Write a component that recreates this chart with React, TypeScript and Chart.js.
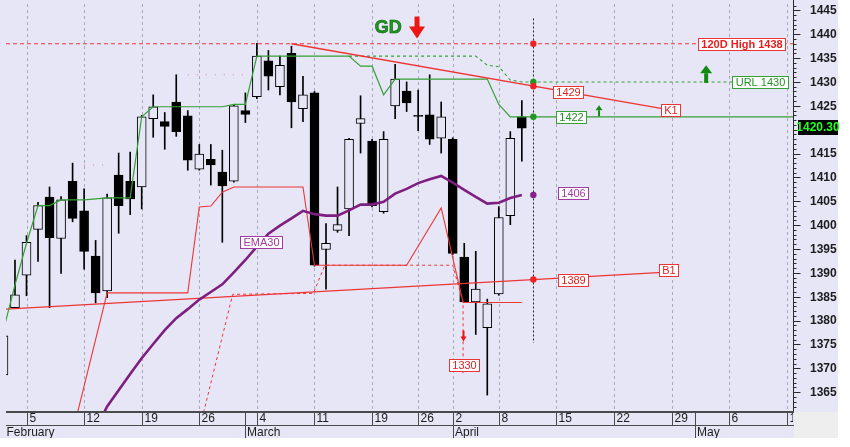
import React, { useEffect, useRef } from 'react';
import { Chart, registerables } from 'chart.js';

Chart.register(...registerables);

// ---------- data ----------
// trading-day index of the first candle (index 0 = Monday 5 February)
const FIRST_BAR_INDEX = -2;
const opens = [1368.6, 1382.7, 1389.5, 1399.1, 1405.9, 1397.2, 1409.2, 1403.0, 1393.5, 1386.2, 1410.5, 1409.2, 1408.0, 1422.3, 1421.7, 1425.8, 1422.9, 1411.7, 1413.8, 1411.1, 1409.2, 1424.0, 1426.9, 1434.4, 1429.0, 1436.0, 1424.4, 1427.7, 1394.9, 1398.9, 1403.4, 1421.3, 1417.6, 1402.8, 1425.0, 1428.1, 1423.0, 1423.1, 1418.2, 1418.0, 1393.3, 1383.9, 1378.5, 1385.6, 1402.0, 1422.7];
const highs = [1378.0, 1392.7, 1397.8, 1404.8, 1408.0, 1406.0, 1413.0, 1407.6, 1396.8, 1406.5, 1415.1, 1415.3, 1423.0, 1427.3, 1423.6, 1431.5, 1424.0, 1416.9, 1416.9, 1415.7, 1425.3, 1427.7, 1438.1, 1436.6, 1435.4, 1437.5, 1431.2, 1428.0, 1400.3, 1408.0, 1418.2, 1427.1, 1418.0, 1419.6, 1433.7, 1430.0, 1428.3, 1431.5, 1425.8, 1418.3, 1396.2, 1394.5, 1384.5, 1403.9, 1419.6, 1426.1];
const lows = [1366.0, 1382.7, 1385.2, 1392.4, 1382.7, 1389.9, 1400.7, 1390.8, 1383.7, 1384.8, 1398.3, 1402.2, 1403.4, 1418.4, 1415.9, 1418.6, 1411.5, 1411.5, 1408.4, 1396.4, 1409.0, 1421.5, 1426.5, 1428.3, 1427.3, 1420.4, 1421.7, 1391.4, 1386.6, 1398.5, 1397.8, 1415.1, 1403.8, 1402.5, 1422.3, 1423.8, 1419.8, 1416.9, 1415.1, 1393.8, 1383.9, 1377.1, 1364.4, 1385.3, 1400.1, 1413.4];
const closes = [1376.8, 1385.4, 1396.4, 1404.1, 1397.4, 1405.3, 1401.4, 1394.5, 1385.8, 1405.7, 1404.1, 1405.5, 1422.7, 1424.8, 1420.7, 1419.6, 1413.6, 1414.9, 1412.6, 1408.2, 1425.0, 1423.2, 1435.4, 1431.2, 1433.5, 1425.8, 1427.3, 1391.6, 1396.2, 1400.1, 1418.0, 1422.3, 1404.1, 1418.0, 1430.6, 1425.6, 1422.8, 1418.0, 1422.7, 1394.1, 1383.9, 1386.6, 1383.5, 1401.6, 1418.2, 1420.3];
const lastPrice = 1420.3;

// EMA30 (starts at trading-day index 6)
const EMA_FIRST_INDEX = 6;
const ema30 = [1357.2, 1362.0, 1365.4, 1368.8, 1372.1, 1375.1, 1378.0, 1380.5, 1382.4, 1384.4, 1386.0, 1387.6, 1390.1, 1392.7, 1395.5, 1398.2, 1399.9, 1401.4, 1403.0, 1402.3, 1402.0, 1402.0, 1403.1, 1404.3, 1404.3, 1404.9, 1406.6, 1407.6, 1408.8, 1409.6, 1410.3, 1408.9, 1407.4, 1405.9, 1404.5, 1404.7, 1405.7, 1406.3];

// green trailing line (starts at index -2, ends at 44)
const greenTrail = [1378.0, 1387.5, 1396.2, 1404.1, 1404.1, 1405.3, 1405.3, 1405.3, 1405.5, 1405.7, 1405.7, 1405.7, 1422.7, 1424.8, 1424.8, 1424.8, 1424.8, 1424.8, 1424.8, 1424.8, 1425.3, 1425.3, 1435.4, 1435.4, 1435.4, 1435.4, 1435.4, 1435.4, 1435.4, 1435.4, 1435.4, 1433.3, 1433.3, 1427.3, 1430.6, 1430.6, 1430.6, 1430.6, 1430.6, 1430.6, 1430.6, 1430.6, 1430.6, 1425.3, 1422.7, 1422.7, 1422.7];
const supportLevel = 1422.7;

// green dashed line -> URL 1430
const greenDashIdx = [28, 39, 40, 41, 42, 43, 44, 61.3];
const greenDashVal = [1435.4, 1435.4, 1433.5, 1433.2, 1430.4, 1430, 1430, 1430];

// red stepped line
const redStepIdx = [4, 7, 14, 15, 16, 17, 18, 24, 25, 33, 36, 37.9, 43];
const redStepVal = [1356.5, 1385.8, 1385.8, 1403.8, 1404.0, 1406.9, 1408.0, 1408.0, 1391.6, 1391.6, 1403.6, 1383.8, 1383.8];

// red dashed line (down to the 1330 projection)
const redDashIdx = [15, 17.9, 24.9, 25.9, 37.0, 37.9, 37.9];
const redDashVal = [1357.1, 1385.5, 1385.7, 1391.6, 1391.6, 1383.8, 1369.0];

// trend lines
const k1Idx = [23, 55.2];
const k1Val = [1438, 1424.4];
const b1Idx = [-1.78, 55.2];
const b1Val = [1382.4, 1390.1];
const high120 = 1438;
const urlLevel = 1430;

// faint dotted resistance marks
const res1Idx = [5, 7.2];
const res1Val = [1412.6, 1412.6];
const res2Idx = [14, 19];
const res2Val = [1431.5, 1431.5];

// markers on the projection day
const markerIdx = 44;
const markerVal = [1438, 1430, 1429.1, 1422.7, 1406.3, 1388.6];
const markerColor = ['#EE2222', '#229922', '#EE2222', '#229922', '#882288', '#EE2222'];

// axis labels
const weekTickIdx = [0, 5, 10, 15, 20, 25, 30, 34, 37, 41, 46, 51, 56, 61, 66];
const weekTickLabels = ['5', '12', '19', '26', '4', '11', '19', '26', '2', '8', '15', '22', '29', '6', '13'];
const monthStartIdx = [-2, 19, 37, 58];
const monthLabels = ['February', 'March', 'April', 'May'];
const priceTicks = [1365, 1370, 1375, 1380, 1385, 1390, 1395, 1400, 1405, 1410, 1415, 1420, 1425, 1430, 1435, 1440, 1445];

// ---------- constants for the view ----------
const X_MIN = -1.78;
const X_MAX = 66.54;
const Y_MIN = 1361.06;
const Y_MAX = 1446.33;
const BG = '#E6E6F7';
const RED = '#EE3535';
const RED_TXT = '#E61E1E';
const GREEN = '#35A035';
const GREEN_TXT = '#259025';
const PURPLE = '#7E1F80';
const PURPLE_TXT = '#A03CA0';
const FONT = '"Liberation Sans", Arial, sans-serif';

const pairs = (xs: number[], ys: number[]) => xs.map((x, i) => ({ x, y: ys[i] }));

function drawBox(ctx: CanvasRenderingContext2D, text: string, cx: number, cy: number, color: string, txtColor: string, bold = false) {
  ctx.font = `${bold ? 'bold ' : ''}11px ${FONT}`;
  const w = Math.round(ctx.measureText(text).width + 6);
  const h = 12;
  const x0 = Math.round(cx - w / 2) + 0.5;
  const y0 = Math.round(cy - h / 2) + 0.5;
  ctx.fillStyle = '#FFFFFF';
  ctx.fillRect(x0, y0, w, h);
  ctx.strokeStyle = color;
  ctx.lineWidth = 1;
  ctx.setLineDash([]);
  ctx.strokeRect(x0, y0, w, h);
  ctx.fillStyle = txtColor;
  ctx.textAlign = 'center';
  ctx.textBaseline = 'middle';
  ctx.fillText(text, x0 + w / 2, y0 + h / 2 + 0.5);
}

function drawArrow(ctx: CanvasRenderingContext2D, x: number, yTail: number, yHead: number, headW: number, headH: number, shaftW: number, color: string) {
  const dir = yHead < yTail ? -1 : 1;
  ctx.fillStyle = color;
  const baseY = yHead - dir * headH;
  ctx.fillRect(x - shaftW / 2, Math.min(yTail, baseY), shaftW, Math.abs(baseY - yTail) + 1);
  ctx.beginPath();
  ctx.moveTo(x - headW / 2, baseY);
  ctx.lineTo(x + headW / 2, baseY);
  ctx.lineTo(x, yHead);
  ctx.closePath();
  ctx.fill();
}

const overlayPlugin = {
  id: 'overlay',
  beforeDraw(chart: any) {
    const { ctx, chartArea: a } = chart;
    ctx.save();
    ctx.fillStyle = '#FFFFFF';
    ctx.fillRect(0, 0, chart.width, chart.height);
    ctx.fillStyle = BG;
    ctx.fillRect(0, 0, 838, 438);
    ctx.fillStyle = '#EEEEEE';
    ctx.fillRect(a.right + 1, a.bottom + 1, 838 - a.right - 1, 438 - a.bottom - 1);
    ctx.restore();
  },
  beforeDatasetsDraw(chart: any) {
    const { ctx, chartArea: a, scales } = chart;
    const xs = scales.x;
    const ys = scales.y;
    ctx.save();
    ctx.strokeStyle = '#A9A9B9';
    ctx.lineWidth = 1;
    ctx.setLineDash([3, 3]);
    weekTickIdx.forEach((i) => {
      const x = Math.round(xs.getPixelForValue(i)) + 0.5;
      if (x <= a.left || x >= a.right) return;
      ctx.beginPath();
      ctx.moveTo(x, a.top);
      ctx.lineTo(x, a.bottom);
      ctx.stroke();
    });
    // projection day dotted line
    const xm = Math.round(xs.getPixelForValue(markerIdx)) + 0.5;
    ctx.strokeStyle = '#202020';
    ctx.setLineDash([2, 2]);
    ctx.beginPath();
    ctx.moveTo(xm, ys.getPixelForValue(1443.3));
    ctx.lineTo(xm, ys.getPixelForValue(1375.3));
    ctx.stroke();
    ctx.restore();
  },
  afterDatasetsDraw(chart: any) {
    const { ctx, scales } = chart;
    const px = (i: number) => scales.x.getPixelForValue(i);
    const py = (v: number) => scales.y.getPixelForValue(v);
    ctx.save();
    // arrows
    drawArrow(ctx, px(33.9), py(1443.7), py(1439.1), 16, 12, 5, '#EE1515');
    drawArrow(ctx, px(59.0), py(1430), py(1433.5), 12, 8, 4, '#128A12');
    drawArrow(ctx, px(49.7), py(1423.0), py(1425.1), 7, 5, 2, '#128A12');
    drawArrow(ctx, Math.round(px(37.9)) + 0.5, py(1377.9), py(1375.6), 6, 5, 2, '#EE1515');
    // GD
    ctx.font = `bold 18px ${FONT}`;
    ctx.textAlign = 'center';
    ctx.textBaseline = 'middle';
    ctx.fillStyle = '#1E9A1E';
    ctx.fillText('GD', px(31.4), py(1441.2));
    ctx.lineWidth = 0.6;
    ctx.strokeStyle = '#0E5E0E';
    ctx.strokeText('GD', px(31.4), py(1441.2));
    // labels
    drawBox(ctx, `120D High ${high120}`, px(62.1), py(high120), RED, RED_TXT, true);
    drawBox(ctx, `URL ${urlLevel}`, px(63.7), py(urlLevel), GREEN, GREEN_TXT);
    drawBox(ctx, '1429', px(47.0), py(1427.9), RED, RED_TXT);
    drawBox(ctx, 'K1', px(55.9), py(1424.2), RED, RED_TXT);
    drawBox(ctx, '1422', px(47.3), py(supportLevel), GREEN, GREEN_TXT);
    drawBox(ctx, '1406', px(47.4), py(1406.7), PURPLE_TXT, PURPLE_TXT);
    drawBox(ctx, '1389', px(47.4), py(1388.6), RED, RED_TXT);
    drawBox(ctx, 'B1', px(55.7), py(1390.6), RED, RED_TXT);
    drawBox(ctx, '1330', px(38.0), py(1370.8), RED, RED_TXT);
    drawBox(ctx, 'EMA30', px(20.4), py(1396.4), PURPLE_TXT, PURPLE_TXT);
    ctx.restore();
  },
  afterDraw(chart: any) {
    const { ctx, chartArea: a, scales } = chart;
    const xs = scales.x;
    const ys = scales.y;
    ctx.save();
    ctx.setLineDash([]);
    // right price axis
    const ax = a.right + 0.5;
    ctx.strokeStyle = '#2A2A2A';
    ctx.lineWidth = 1;
    ctx.beginPath();
    ctx.moveTo(ax, 0);
    ctx.lineTo(ax, a.bottom);
    ctx.stroke();
    for (let v = Math.ceil(Y_MIN); v <= Math.floor(Y_MAX); v++) {
      const y = Math.round(ys.getPixelForValue(v)) + 0.5;
      const len = priceTicks.includes(v) ? 7 : 3;
      ctx.beginPath();
      ctx.moveTo(ax, y);
      ctx.lineTo(ax + len, y);
      ctx.stroke();
    }
    ctx.font = `bold 12px ${FONT}`;
    ctx.fillStyle = '#1C1C1C';
    ctx.textAlign = 'left';
    ctx.textBaseline = 'middle';
    priceTicks.forEach((v) => {
      ctx.fillText(String(v), a.right + 17, ys.getPixelForValue(v) + 0.5);
    });
    // last price box
    const ly = Math.round(ys.getPixelForValue(lastPrice));
    ctx.fillStyle = '#000000';
    ctx.fillRect(a.right + 5, ly - 8, 40, 15);
    ctx.fillStyle = '#22FF22';
    ctx.textAlign = 'center';
    ctx.fillText(lastPrice.toFixed(2), a.right + 25, ly);

    // date axis
    const top = a.bottom;
    const mid = top + 14;
    const bot = top + 27;
    ctx.fillStyle = '#4A4A4A';
    ctx.fillRect(a.left, top, a.right - a.left + 1, 2);
    ctx.fillRect(a.left, mid, a.right - a.left + 1, 1);
    ctx.save();
    ctx.beginPath();
    ctx.rect(a.left, top, a.right - a.left, bot - top);
    ctx.clip();
    ctx.strokeStyle = '#4A4A4A';
    ctx.lineWidth = 1;
    ctx.font = `12px ${FONT}`;
    ctx.fillStyle = '#1C1C1C';
    ctx.textAlign = 'left';
    ctx.textBaseline = 'middle';
    weekTickIdx.forEach((i, k) => {
      const x = Math.round(xs.getPixelForValue(i)) + 0.5;
      ctx.beginPath();
      ctx.moveTo(x, top);
      ctx.lineTo(x, mid);
      ctx.stroke();
      ctx.fillText(weekTickLabels[k], x + 2, top + 8);
    });
    monthStartIdx.forEach((i, k) => {
      let x = Math.round(xs.getPixelForValue(i)) + 0.5;
      if (x > a.left + 1) {
        ctx.beginPath();
        ctx.moveTo(x, top);
        ctx.lineTo(x, bot);
        ctx.stroke();
      } else {
        x = a.left - 1;
      }
      ctx.fillText(monthLabels[k], x + 1.5, mid + 7.5);
    });
    ctx.restore();
    ctx.restore();
  },
};

export default function App() {
  const canvasRef = useRef<HTMLCanvasElement | null>(null);

  useEffect(() => {
    document.body.style.margin = '0';
    const canvas = canvasRef.current;
    if (!canvas) return;

    const barIdx = opens.map((_, k) => FIRST_BAR_INDEX + k);
    const bodies = barIdx.map((x, k) => ({ x, y: [opens[k], closes[k]] }));
    const wicks = barIdx.map((x, k) => ({ x, y: [lows[k], highs[k]] }));
    const bodyFill = barIdx.map((_, k) => (closes[k] >= opens[k] ? BG : '#000000'));

    const greenPts = greenTrail.map((y, k) => ({ x: FIRST_BAR_INDEX + k, y }));
    greenPts.push({ x: X_MAX, y: supportLevel });
    const emaPts = ema30.map((y, k) => ({ x: EMA_FIRST_INDEX + k, y }));

    const line = (data: any[], color: string, width: number, order: number, dash: number[] = []) => ({
      type: 'line' as const,
      data,
      borderColor: color,
      borderWidth: width,
      borderDash: dash,
      pointRadius: 0,
      tension: 0,
      fill: false,
      order,
    });

    const chart = new Chart(canvas, {
      type: 'bar',
      data: {
        datasets: [
          {
            type: 'bar',
            data: wicks as any,
            backgroundColor: '#000000',
            borderWidth: 0,
            barThickness: 1,
            grouped: false,
            order: 20,
          } as any,
          {
            type: 'bar',
            data: bodies as any,
            backgroundColor: bodyFill,
            borderColor: '#000000',
            borderWidth: 1,
            borderSkipped: false,
            barThickness: 9,
            grouped: false,
            order: 19,
          } as any,
          line(pairs(res1Idx, res1Val), '#E07A7A', 1, 12, [1, 8]),
          line(pairs(res2Idx, res2Val), '#E07A7A', 1, 12, [1, 8]),
          line(pairs([X_MIN, X_MAX], [high120, high120]), RED, 1, 10, [4, 3]),
          line(pairs(redDashIdx, redDashVal), RED, 1, 9, [3, 3]),
          line(pairs(redStepIdx, redStepVal), RED, 1.1, 8),
          line(pairs(b1Idx, b1Val), RED, 1.3, 7),
          line(pairs(greenDashIdx, greenDashVal), GREEN, 1.1, 6, [3, 3]),
          line(greenPts, GREEN, 1.2, 5),
          line(pairs(k1Idx, k1Val), RED, 1.4, 4),
          line(emaPts, PURPLE, 2.6, 3),
          {
            type: 'line',
            data: markerVal.map((y) => ({ x: markerIdx, y })),
            showLine: false,
            pointRadius: 3.2,
            pointBackgroundColor: markerColor,
            pointBorderColor: markerColor,
            pointBorderWidth: 0,
            order: 0,
          } as any,
        ],
      },
      options: {
        responsive: false,
        animation: false,
        events: [],
        layout: { padding: { left: 6, right: 57, top: 0, bottom: 36 } },
        plugins: { legend: { display: false }, tooltip: { enabled: false } },
        scales: {
          x: { type: 'linear', min: X_MIN, max: X_MAX, offset: false, display: false },
          y: { type: 'linear', min: Y_MIN, max: Y_MAX, display: false },
        },
      },
      plugins: [overlayPlugin],
    } as any);

    return () => chart.destroy();
  }, []);

  return (
    <div style={{ width: 850, height: 447, position: 'relative' }}>
      <canvas ref={canvasRef} width={850} height={447} style={{ display: 'block' }} />
    </div>
  );
}
